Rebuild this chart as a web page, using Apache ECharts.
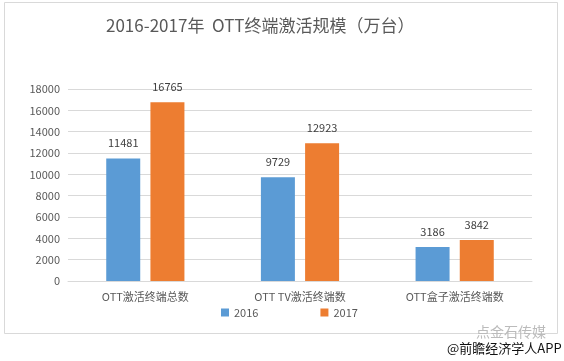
<!DOCTYPE html>
<html><head><meta charset="utf-8">
<script src="https://cdn.jsdelivr.net/npm/echarts@6/dist/echarts.min.js"></script>
<style>html,body{margin:0;padding:0;background:#fff}#c{width:564px;height:361px}</style>
</head><body><div id="c"></div>
<script>
const categories = ['OTT激活终端总数', 'OTT TV激活终端数', 'OTT盒子激活终端数'];
const series2016 = [11481, 9729, 3186];
const series2017 = [16765, 12923, 3842];
const yTicks = [0, 2000, 4000, 6000, 8000, 10000, 12000, 14000, 16000, 18000];
const font = '"Noto Sans CJK SC", "Microsoft YaHei", sans-serif';
const chart = echarts.init(document.getElementById('c'));
chart.setOption({
  animation: false,
  backgroundColor: '#fff',
  title: {
    text: '2016-2017年  OTT终端激活规模（万台）',
    left: 101, top: 12,
    textStyle: { fontFamily: font, fontSize: 17, fontWeight: 'normal', color: '#595959' }
  },
  legend: {
    bottom: 38, left: 216, itemWidth: 8, itemHeight: 8, itemGap: 62,
    icon: 'rect',
    textStyle: { fontFamily: font, fontSize: 11, color: '#595959' },
    data: ['2016', '2017']
  },
  grid: { left: 68, right: 32, top: 89, bottom: 80, containLabel: false },
  xAxis: {
    type: 'category', data: categories,
    axisLine: { lineStyle: { color: '#d9d9d9' } },
    axisTick: { show: false },
    axisLabel: { fontFamily: font, fontSize: 11, color: '#595959', margin: 10 }
  },
  yAxis: {
    type: 'value', min: 0, max: 18000, interval: 2000,
    axisLine: { show: false }, axisTick: { show: false },
    splitLine: { lineStyle: { color: '#d9d9d9' } },
    axisLabel: { fontFamily: font, fontSize: 11, color: '#595959', margin: 8,
      formatter: v => yTicks.includes(v) ? String(v) : '' }
  },
  series: [
    { name: '2016', type: 'bar', data: series2016, barWidth: 34, barGap: '30%',
      itemStyle: { color: '#5B9BD5' },
      label: { show: true, position: 'top', distance: 10, fontFamily: font, fontSize: 11, color: '#404040' } },
    { name: '2017', type: 'bar', data: series2017, barWidth: 34,
      itemStyle: { color: '#ED7D31' },
      label: { show: true, position: 'top', distance: 10, fontFamily: font, fontSize: 11, color: '#404040' } }
  ],
  graphic: [
    { type: 'rect', shape: { x: 4.5, y: 2.5, width: 553, height: 331 },
      style: { fill: 'none', stroke: '#d9d9d9', lineWidth: 1 }, silent: true, z: -1 },
    { type: 'text', left: 476, top: 325, style: { text: '点金石传媒', font: '14px ' + font, fill: '#bbbbbb' } },
    { type: 'text', left: 447, top: 342, style: { text: '@前瞻经济学人APP', font: '13px ' + font, fill: '#111' } }
  ]
});
</script></body></html>
